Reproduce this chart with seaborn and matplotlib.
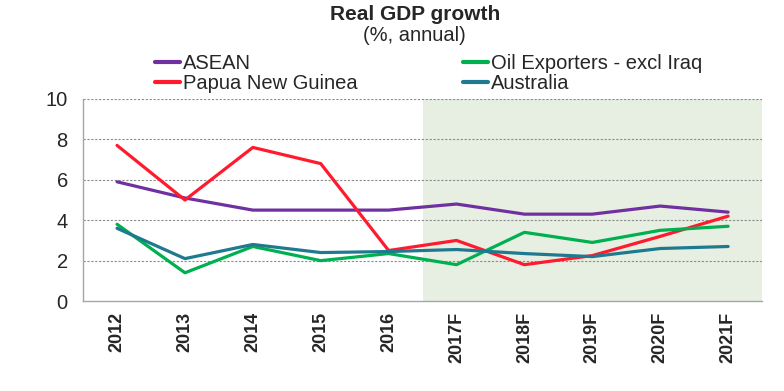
import numpy as np
import pandas as pd
import matplotlib
matplotlib.use("Agg")
import matplotlib.pyplot as plt
import seaborn as sns

years = ['2012', '2013', '2014', '2015', '2016', '2017F', '2018F', '2019F', '2020F', '2021F']
asean = [5.9, 5.1, 4.5, 4.5, 4.5, 4.8, 4.3, 4.3, 4.7, 4.4]
png = [7.7, 5.0, 7.6, 6.8, 2.5, 3.0, 1.8, 2.25, 3.2, 4.2]
oil = [3.8, 1.4, 2.7, 2.0, 2.35, 1.8, 3.4, 2.9, 3.5, 3.7]
australia = [3.6, 2.1, 2.8, 2.4, 2.45, 2.55, 2.35, 2.2, 2.6, 2.7]

series_names = ['ASEAN', 'Papua New Guinea', 'Oil Exporters - excl Iraq', 'Australia']
colors = {'ASEAN': '#7030a0', 'Papua New Guinea': '#ff1a2e',
          'Oil Exporters - excl Iraq': '#00b050', 'Australia': '#1f7a8f'}

df = pd.concat([pd.DataFrame({'year': years, 'value': v, 'series': n})
                for n, v in zip(series_names, [asean, png, oil, australia])])

sns.set_style('white')
plt.rcParams['font.family'] = ['Liberation Sans', 'DejaVu Sans']

fig = plt.figure(figsize=(7.84, 3.91), dpi=100)
ax = fig.add_axes([0.106, 0.230, 0.866, 0.517])

# forecast shading
ax.axvspan(4.5, 9.5, color='#e6efe1', zorder=0, lw=0)

sns.lineplot(data=df, x='year', y='value', hue='series', hue_order=series_names,
             palette=colors, linewidth=2.3, sort=False, ax=ax, legend=False)

ax.set_xlim(-0.5, 9.5)
ax.set_ylim(0, 10)
ax.set_yticks([0, 2, 4, 6, 8, 10])
for yv in [2, 4, 6, 8, 10]:
    ax.axhline(yv, color='#8c8c8c', lw=0.8, ls=(0, (2, 1.5)), zorder=1)

ax.set_xticks(range(len(years)))
ax.set_xticklabels(years, rotation=90, fontsize=13, fontweight='bold')
ax.set_xticks(np.arange(-0.5, 10, 1), minor=True)
ax.tick_params(axis='x', which='major', length=0, pad=8)
ax.tick_params(axis='x', which='minor', length=5, color='#999999', width=0.8)
ax.tick_params(axis='y', labelsize=14.5, length=4, color='#999999', width=0.8, pad=7)
ax.set_xlabel('')
ax.set_ylabel('')

for s in ['top', 'right']:
    ax.spines[s].set_visible(False)
for s in ['left', 'bottom']:
    ax.spines[s].set_color('#a6a6a6')
    ax.spines[s].set_linewidth(1.0)

fig.text(0.529, 0.962, 'Real GDP growth', ha='center', va='center', fontsize=15, fontweight='bold')
fig.text(0.529, 0.908, '(%, annual)', ha='center', va='center', fontsize=14.5)

handles = [plt.Line2D([], [], color=colors[n], lw=3) for n in series_names]
fig.legend(handles, series_names, loc='upper left', bbox_to_anchor=(0.198, 0.862),
           ncol=2, frameon=False, fontsize=14.5, handlelength=1.25, handletextpad=0.15,
           columnspacing=5.2, labelspacing=0.05, borderpad=0, borderaxespad=0)

fig.savefig('out.png', dpi=100)
